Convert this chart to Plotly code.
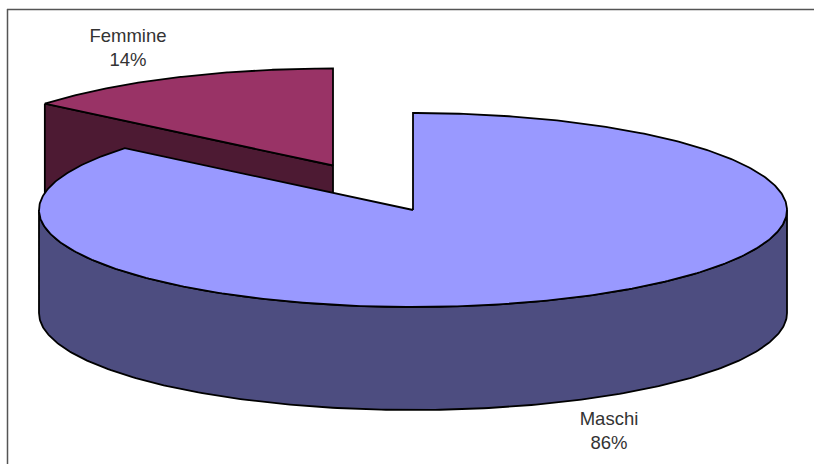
import numpy as np
import plotly.graph_objects as go

categories = ["Maschi", "Femmine"]
shares = [86, 14]
percent_labels = ["86%", "14%"]

# styling / projection of the 3D pie
W, H = 814, 464
CX, CY, RX, RY, DEPTH = 413, 210, 374, 97, 103
OFFSET_X, OFFSET_Y = -80, -44.5   # explosion of the second slice
TOP = {"Maschi": "#9999ff", "Femmine": "#993366"}
WALL = {"Maschi": "#4d4d80", "Femmine": "#4d1a33"}
LINE = "#000000"
LW = 1.8


def rim(a0, a1, cx, cy, n=240):
    t = np.radians(np.linspace(a0, a1, n))
    return cx + RX * np.sin(t), cy - RY * np.cos(t)


def poly(x, y, fill):
    return go.Scatter(x=list(x), y=list(y), mode="lines", fill="toself",
                      fillcolor=fill, line=dict(color=LINE, width=LW),
                      hoverinfo="skip", showlegend=False)


fig = go.Figure()
split = 360 * shares[0] / sum(shares)

# exploded slice: cut wall, then top
fx, fy = CX + OFFSET_X, CY + OFFSET_Y
ex, ey = rim(split, split, fx, fy, 1)
fig.add_trace(poly([ex[0], fx, fx, ex[0], ex[0]],
                   [ey[0], fy, fy + DEPTH, ey[0] + DEPTH, ey[0]],
                   WALL["Femmine"]))
ax, ay = rim(split, 360, fx, fy)
fig.add_trace(poly(np.r_[fx, ax, fx], np.r_[fy, ay, fy], TOP["Femmine"]))

# large slice: outer wall, then top
wx, wy = rim(90, 270, CX, CY)
fig.add_trace(poly(np.r_[wx, wx[::-1], wx[0]],
                   np.r_[wy, wy[::-1] + DEPTH, wy[0]], WALL["Maschi"]))
tx, ty = rim(0, split, CX, CY, 480)
fig.add_trace(poly(np.r_[CX, tx, CX], np.r_[CY, ty, CY], TOP["Maschi"]))

# labels
label_pos = {"Maschi": (609, 432), "Femmine": (128, 49)}
for name, pct in zip(categories, percent_labels):
    px, py = label_pos[name]
    fig.add_trace(go.Scatter(
        x=[px], y=[py], mode="text", text=[f"{name}<br>{pct}"],
        textposition="middle center",
        textfont=dict(family="Liberation Sans, Arial, sans-serif", size=18.5, color="#333333"),
        hoverinfo="skip", showlegend=False))

axis = dict(visible=False, fixedrange=True)
fig.update_layout(
    width=W, height=H, autosize=False,
    margin=dict(l=0, r=0, t=0, b=0),
    paper_bgcolor="#ffffff", plot_bgcolor="#ffffff",
    xaxis=dict(range=[0, W], **axis),
    yaxis=dict(range=[H, 0], **axis),
    shapes=[
        dict(type="line", xref="x", yref="y", x0=7, x1=W, y0=9.5, y1=9.5,
             line=dict(color="#555555", width=1.5)),
        dict(type="line", xref="x", yref="y", x0=7.5, x1=7.5, y0=9, y1=H,
             line=dict(color="#555555", width=1.5)),
    ],
)
fig.write_html("out.html", config={"displayModeBar": False},
               post_script="document.body.style.margin='0';document.documentElement.style.overflow='hidden';")
